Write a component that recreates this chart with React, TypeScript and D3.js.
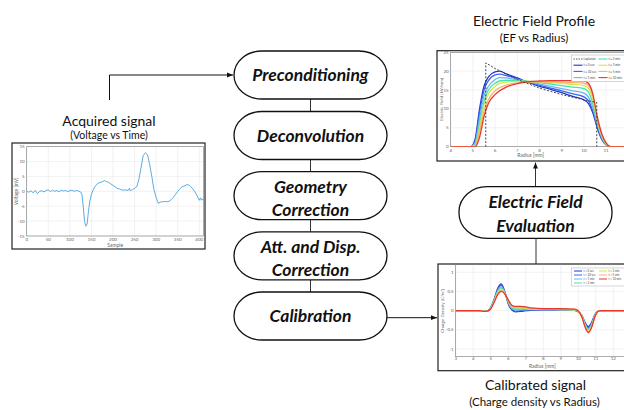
import React from "react";
import * as d3 from "d3";

// ---------- Acquired signal (Voltage vs Time) ----------
const sampleIdx = [0,5,10,15,20,25,30,35,40,45,50,55,60,65,70,75,80,85,90,95,100,105,110,115,120,125,128,131,134,137,140,143,146,150,155,160,165,170,175,180,185,190,195,200,205,210,215,220,225,230,235,238,240,245,250,255,260,265,270,275,280,285,290,295,300,305,310,315,320,325,330,335,340,345,350,355,360,365,370,375,380,385,390,395,400,403,405,408,410];
const voltage = [0,-0.3,0.2,-0.5,0.3,-0.8,0,0.2,-0.2,0.3,0.5,-0.1,0.4,0,0.3,-0.2,0.4,0.1,0.3,-0.1,0.2,0.4,0,0.3,0.1,-0.2,-1,-5,-10,-11.7,-11,-7,-3.5,-1,0.8,2,2.7,3,3.2,3.6,3.3,3,2.5,2,1.5,1,0.8,0.5,0.4,0.5,0.3,1,0.2,0.6,1,1.5,4,8,12,13,12.3,9,5,0.5,-2,-4,-3.6,-3.5,-3.4,-3.5,-3.3,-2.8,-2,-1,0,0.8,1.5,1.8,2.2,2.2,1.6,0.8,-0.2,-1.5,-3,-2.2,-3,-2.5,-3];
const sampleTicks = [0,50,100,150,200,250,300,350,400];
const voltageTicks = [-15,-10,-5,0,5,10,15];

// ---------- Electric Field Profile ----------
const efRadius = [4,4.9,5.1,5.3,5.5,5.7,6.0,6.2,6.5,7.0,7.5,8.0,8.5,9.0,9.5,10.0,10.2,10.4,10.6,10.8,11.0,11.2,13];
const ef_t0   = [0,0,2,10,16,18.5,19.8,20.0,19.3,18.2,17.0,16.0,15.2,14.3,13.3,12.4,11.5,9,5,2,0.5,0,0];
const ef_t30s = [0,0,1.5,9,15,17.5,19.0,19.2,18.8,18.0,17.1,16.3,15.5,14.8,14.0,13.2,12.2,9.5,5.5,2.2,0.5,0,0];
const ef_t1m  = [0,0,1,7.5,13.5,16,17.8,18.3,18.2,17.7,17.2,16.6,16.0,15.4,14.8,14.2,13.2,10.5,6,2.5,0.6,0,0];
const ef_t2m  = [0,0,0.6,6,12,15,16.8,17.4,17.6,17.5,17.3,17.0,16.6,16.2,15.8,15.4,14.5,11.5,6.5,2.7,0.7,0,0];
const ef_t3m  = [0,0,0.3,5,11,14,16,16.8,17.1,17.3,17.3,17.2,17.0,16.8,16.5,16.2,15.5,12.5,7,3,0.8,0,0];
const ef_t5m  = [0,0,0.2,4,9.5,12.5,14.8,15.6,16.3,16.9,17.1,17.2,17.2,17.1,17.0,16.8,16.2,13.5,7.5,3.2,0.9,0,0];
const ef_t10m = [0,0,0,2.5,8,11.5,13.8,14.8,15.8,16.7,17.2,17.4,17.5,17.5,17.5,17.4,16.8,14,8,3.5,1,0,0];
const laplacianR = [5.58,5.58,6,7,8,9,10,10.58,10.58];
const laplacianE = [0,22.2,20.7,17.8,15.5,13.8,12.4,11.7,0];
const efRadiusTicks = [4,5,6,7,8,9,10,11,12];
const efTicks = [0,5,10,15,20,25];

// ---------- Calibrated signal (Charge density vs Radius) ----------
const cdRadius = [3,4.4,4.6,4.8,5.0,5.2,5.4,5.6,5.8,6.0,6.2,6.4,6.7,7.0,7.3,8,9,9.8,10.0,10.2,10.4,10.57,10.75,10.95,11.15,11.35,13];
const cd_t0   = [0,0,-0.02,-0.01,0.08,0.3,0.58,0.7,0.5,0.18,0.02,-0.03,-0.02,0.0,0.01,0.02,0.02,0.01,-0.03,-0.12,-0.32,-0.42,-0.32,-0.1,-0.01,0,0];
const cd_t30s = [0,0,-0.02,-0.01,0.08,0.29,0.55,0.66,0.49,0.2,0.04,-0.01,0,0.01,0.02,0.03,0.02,0.01,-0.03,-0.13,-0.34,-0.45,-0.34,-0.11,-0.01,0,0];
const cd_t1m  = [0,0,-0.02,-0.01,0.07,0.27,0.52,0.62,0.48,0.22,0.06,0.02,0.02,0.03,0.03,0.03,0.03,0.02,-0.02,-0.13,-0.36,-0.48,-0.37,-0.12,-0.01,0,0];
const cd_t2m  = [0,0,-0.02,-0.01,0.07,0.26,0.49,0.58,0.47,0.24,0.08,0.05,0.05,0.05,0.04,0.04,0.03,0.02,-0.02,-0.14,-0.38,-0.5,-0.39,-0.13,-0.01,0,0];
const cd_t3m  = [0,0,-0.02,-0.01,0.06,0.25,0.47,0.56,0.46,0.26,0.1,0.07,0.07,0.06,0.05,0.04,0.03,0.02,-0.02,-0.15,-0.4,-0.53,-0.41,-0.14,-0.01,0,0];
const cd_t5m  = [0,0,-0.02,-0.01,0.06,0.24,0.45,0.53,0.45,0.27,0.12,0.09,0.09,0.08,0.06,0.05,0.04,0.03,-0.01,-0.15,-0.42,-0.55,-0.43,-0.15,-0.01,0,0];
const cd_t10m = [0,0,-0.02,-0.01,0.05,0.22,0.42,0.5,0.44,0.28,0.14,0.11,0.11,0.1,0.07,0.05,0.05,0.04,-0.01,-0.16,-0.44,-0.57,-0.45,-0.16,-0.01,0,0];
const cdRadiusTicks = [3,4,5,6,7,8,9,10,11,12];
const cdTicks = [-1,-0.5,0,0.5,1];

const seriesLabels = ["t = 0 sec","t = 30 sec","t = 1 min","t = 2 min","t = 3 min","t = 5 min","t = 10 min"];
const seriesColors = ["#2233cc","#3a66ee","#6cb4f2","#3fe6a6","#d6e64a","#f5b472","#e8382c"];

// ---------- Flow chart ----------
const stepLabels = [["Preconditioning"],["Deconvolution"],["Geometry","Correction"],["Att. and Disp.","Correction"],["Calibration"]];
const stepCenters = [75,135.5,195.7,255.8,316];

const FONT = "Lato, 'Open Sans', sans-serif";
const GRID = "#e4e4e4";
const TICKC = "#666";
const W = 624;

function fmt(v: number) { return String(v); }

export default function App() {
  // Left chart scales
  const vx = d3.scaleLinear().domain([0, 410]).range([26.7, 203.6]);
  const vy = d3.scaleLinear().domain([-15, 15]).range([236, 146.7]);
  const vLine = d3.line<number>().x((_, i) => vx(sampleIdx[i])).y(d => vy(d)).curve(d3.curveLinear);

  // EF scales
  const ex = d3.scaleLinear().domain([4, 13]).range([450.7, 650.5]);
  const ey = d3.scaleLinear().domain([0, 25]).range([146.7, 52.3]);
  const efSeries = [ef_t0, ef_t30s, ef_t1m, ef_t2m, ef_t3m, ef_t5m, ef_t10m];
  const efLine = d3.line<number>().x((_, i) => ex(efRadius[i])).y(d => ey(d)).curve(d3.curveMonotoneX);
  const lapLine = d3.line<number>().x((_, i) => ex(laplacianR[i])).y(d => ey(d));

  // CD scales
  const cx = d3.scaleLinear().domain([3, 13]).range([455.7, 630.8]);
  const cy = d3.scaleLinear().domain([-1.2, 1.2]).range([356.7, 264.6]);
  const cdSeries = [cd_t0, cd_t30s, cd_t1m, cd_t2m, cd_t3m, cd_t5m, cd_t10m];
  const cdLine = d3.line<number>().x((_, i) => cx(cdRadius[i])).y(d => cy(d)).curve(d3.curveMonotoneX);

  const boxX0 = 234, boxX1 = 387, boxH = 48;
  const STEPFS = 17.5;

  return (
    <svg width={W} height={410} style={{ position: "absolute", left: 0, top: 0, background: "#fff" }} fontFamily={FONT}>
      <defs>
        <marker id="arr" viewBox="0 0 10 10" refX="10" refY="5" markerWidth="6" markerHeight="6" orient="auto-start-reverse">
          <path d="M0,1 L10,5 L0,9 z" fill="#111" />
        </marker>
        <clipPath id="clipV"><rect x={vx(0)} y={vy(15)} width={vx(410) - vx(0)} height={vy(-15) - vy(15)} /></clipPath>
        <clipPath id="clipE"><rect x={ex(4)} y={ey(25)} width={ex(13) - ex(4)} height={ey(0) - ey(25)} /></clipPath>
        <clipPath id="clipC"><rect x={cx(3)} y={cy(1.2)} width={cx(13) - cx(3)} height={cy(-1.2) - cy(1.2)} /></clipPath>
      </defs>

      {/* ===== Acquired signal ===== */}
      <text x={109} y={125.5} fontSize={14} textAnchor="middle" fill="#111">Acquired signal</text>
      <text x={109} y={139} fontSize={10.5} textAnchor="middle" fill="#111">(Voltage vs Time)</text>
      <rect x={12} y={143} width={193} height={106} fill="#fff" stroke="#222" strokeWidth={1.2} />
      {sampleTicks.map(t => <line key={"vg" + t} x1={vx(t)} x2={vx(t)} y1={vy(-15)} y2={vy(15)} stroke={GRID} strokeWidth={0.5} />)}
      {voltageTicks.map(t => <line key={"vh" + t} x1={vx(0)} x2={vx(410)} y1={vy(t)} y2={vy(t)} stroke={GRID} strokeWidth={0.5} />)}
      <rect x={vx(0)} y={vy(15)} width={vx(410) - vx(0)} height={vy(-15) - vy(15)} fill="none" stroke="#777" strokeWidth={0.6} />
      <path d={vLine(voltage) || ""} fill="none" stroke="#4aa3de" strokeWidth={0.9} clipPath="url(#clipV)" />
      {sampleTicks.map(t => <text key={"vx" + t} x={vx(t)} y={240.5} fontSize={4.5} textAnchor="middle" fill={TICKC}>{t}</text>)}
      {voltageTicks.map(t => <text key={"vy" + t} x={vx(0) - 2} y={vy(t) + 1.5} fontSize={4.5} textAnchor="end" fill={TICKC}>{t}</text>)}
      <text x={vx(205)} y={246.8} fontSize={5} textAnchor="middle" fill={TICKC}>Sample</text>
      <text transform={`translate(17.5,${vy(0)}) rotate(-90)`} fontSize={5} textAnchor="middle" fill={TICKC}>Voltage [mV]</text>

      {/* arrow from acquired signal to preconditioning */}
      <path d={`M109.5,100 L109.5,75 L${boxX0 - 1},75`} fill="none" stroke="#111" strokeWidth={1} markerEnd="url(#arr)" />

      {/* ===== Flow chart ===== */}
      {stepCenters.slice(0, -1).map((c, i) => (
        <line key={"conn" + i} x1={310.5} x2={310.5} y1={c + boxH / 2} y2={stepCenters[i + 1] - boxH / 2} stroke="#333" strokeWidth={1} />
      ))}
      {stepLabels.map((lines, i) => {
        const c = stepCenters[i];
        return (
          <g key={"step" + i}>
            <rect x={boxX0} y={c - boxH / 2} width={boxX1 - boxX0} height={boxH} rx={28} ry={24} fill="#fff" stroke="#111" strokeWidth={1.3} />
            {lines.map((l, j) => (
              <text key={j} x={310.5} y={lines.length === 1 ? c + 6 : c - 3 + j * 23} fontSize={STEPFS} fontWeight="bold" fontStyle="italic" textAnchor="middle" fill="#111">{l}</text>
            ))}
          </g>
        );
      })}
      <line x1={boxX1} x2={437} y1={317.7} y2={317.7} stroke="#111" strokeWidth={1} markerEnd="url(#arr)" />

      {/* ===== Electric Field Profile ===== */}
      <text x={534} y={26} fontSize={14} textAnchor="middle" fill="#111">Electric Field Profile</text>
      <text x={534} y={41.5} fontSize={11.5} textAnchor="middle" fill="#111">(EF vs Radius)</text>
      <rect x={437} y={50.7} width={200} height={110.3} fill="#fff" stroke="#222" strokeWidth={1.2} />
      {efRadiusTicks.map(t => <line key={"eg" + t} x1={ex(t)} x2={ex(t)} y1={ey(0)} y2={ey(25)} stroke={GRID} strokeWidth={0.5} />)}
      {efTicks.map(t => <line key={"eh" + t} x1={ex(4)} x2={ex(13)} y1={ey(t)} y2={ey(t)} stroke={GRID} strokeWidth={0.5} />)}
      <rect x={ex(4)} y={ey(25)} width={ex(13) - ex(4)} height={ey(0) - ey(25)} fill="none" stroke="#777" strokeWidth={0.6} />
      <g clipPath="url(#clipE)">
        {efSeries.map((s, i) => <path key={"ef" + i} d={efLine(s) || ""} fill="none" stroke={seriesColors[i]} strokeWidth={1.3} />)}
        <path d={lapLine(laplacianE) || ""} fill="none" stroke="#333" strokeWidth={0.9} strokeDasharray="2,1.6" />
      </g>
      {efRadiusTicks.filter(t => ex(t) < W - 6).map(t => <text key={"ex" + t} x={ex(t)} y={151.8} fontSize={4.5} textAnchor="middle" fill={TICKC}>{t}</text>)}
      {efTicks.map(t => <text key={"ey" + t} x={ex(4) - 2} y={ey(t) + 1.5} fontSize={4.5} textAnchor="end" fill={TICKC}>{t}</text>)}
      <text x={ex(7.6)} y={157.3} fontSize={5} textAnchor="middle" fill={TICKC}>Radius [mm]</text>
      <text transform={`translate(443,${ey(12.5)}) rotate(-90)`} fontSize={4.5} textAnchor="middle" fill={TICKC}>Electric Field [kV/mm]</text>
      {/* EF legend */}
      <rect x={571.5} y={55} width={60} height={26.5} fill="#fff" stroke="#999" strokeWidth={0.4} />
      {["Laplacian", ...seriesLabels].map((lab, i) => {
        const col = i < 4 ? 0 : 1;
        const row = i % 4;
        const x0 = col === 0 ? 573.5 : 598.5;
        const y0 = 59 + row * 6.2;
        const isLap = i === 0;
        return (
          <g key={"el" + i}>
            <line x1={x0} x2={x0 + 9} y1={y0} y2={y0} stroke={isLap ? "#333" : seriesColors[i - 1]} strokeWidth={isLap ? 0.8 : 1.1} strokeDasharray={isLap ? "1.5,1" : undefined} />
            <text x={x0 + 10} y={y0 + 1.1} fontSize={3} fill="#444">{lab}</text>
          </g>
        );
      })}

      {/* arrow up from EF evaluation to EF chart */}
      <line x1={535.5} x2={535.5} y1={186.7} y2={162.5} stroke="#333" strokeWidth={1} markerEnd="url(#arr)" />

      {/* ===== Electric Field Evaluation ===== */}
      <rect x={459} y={186.7} width={153} height={51.6} rx={28} ry={25} fill="#fff" stroke="#111" strokeWidth={1.3} />
      <text x={535.5} y={208} fontSize={STEPFS} fontWeight="bold" fontStyle="italic" textAnchor="middle" fill="#111">Electric Field</text>
      <text x={535.5} y={231.5} fontSize={STEPFS} fontWeight="bold" fontStyle="italic" textAnchor="middle" fill="#111">Evaluation</text>
      <line x1={536} x2={536} y1={238.3} y2={264} stroke="#333" strokeWidth={1} />

      {/* ===== Calibrated signal ===== */}
      <rect x={438} y={264} width={200} height={106.7} fill="#fff" stroke="#222" strokeWidth={1.2} />
      {cdRadiusTicks.map(t => <line key={"cg" + t} x1={cx(t)} x2={cx(t)} y1={cy(-1.2)} y2={cy(1.2)} stroke={GRID} strokeWidth={0.5} />)}
      {cdTicks.map(t => <line key={"ch" + t} x1={cx(3)} x2={cx(13)} y1={cy(t)} y2={cy(t)} stroke={GRID} strokeWidth={0.5} />)}
      <rect x={cx(3)} y={cy(1.2)} width={cx(13) - cx(3)} height={cy(-1.2) - cy(1.2)} fill="none" stroke="#777" strokeWidth={0.6} />
      <g clipPath="url(#clipC)">
        {cdSeries.map((s, i) => <path key={"cd" + i} d={cdLine(s) || ""} fill="none" stroke={seriesColors[i]} strokeWidth={1.3} />)}
      </g>
      {cdRadiusTicks.filter(t => cx(t) < W - 6).map(t => <text key={"cx" + t} x={cx(t)} y={360} fontSize={4.5} textAnchor="middle" fill={TICKC}>{t}</text>)}
      {cdTicks.map(t => <text key={"cy" + t} x={cx(3) - 2} y={cy(t) + 1.5} fontSize={4.5} textAnchor="end" fill={TICKC}>{fmt(t)}</text>)}
      <text x={cx(7.95)} y={367.5} fontSize={5} textAnchor="middle" fill={TICKC}>Radius [mm]</text>
      <text transform={`translate(443.5,${cy(0)}) rotate(-90)`} fontSize={4.5} textAnchor="middle" fill={TICKC}>Charge Density [C/m³]</text>
      {/* CD legend */}
      <rect x={571.5} y={268} width={60} height={18} fill="#fff" stroke="#999" strokeWidth={0.4} />
      {seriesLabels.map((lab, i) => {
        const col = i < 4 ? 0 : 1;
        const row = i < 4 ? i : i - 4;
        const x0 = col === 0 ? 574 : 599;
        const y0 = 271 + row * 4;
        return (
          <g key={"cl" + i}>
            <line x1={x0} x2={x0 + 8} y1={y0} y2={y0} stroke={seriesColors[i]} strokeWidth={1} />
            <text x={x0 + 9.5} y={y0 + 1.1} fontSize={2.8} fill="#444">{lab}</text>
          </g>
        );
      })}
      <text x={535.5} y={390} fontSize={14} textAnchor="middle" fill="#111">Calibrated signal</text>
      <text x={534.5} y={406} fontSize={11.5} textAnchor="middle" fill="#111">(Charge density vs Radius)</text>
    </svg>
  );
}
